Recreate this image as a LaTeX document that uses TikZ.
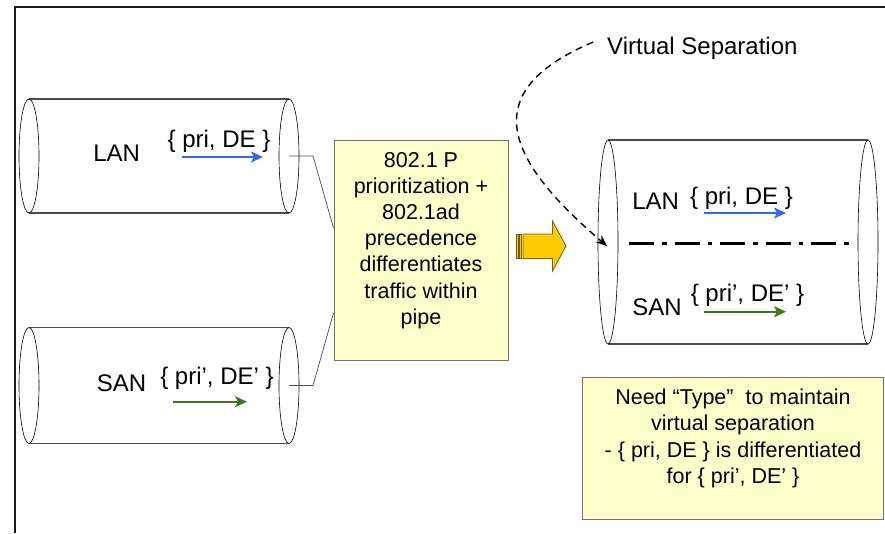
\documentclass[tikz,border=0pt]{standalone}
\usepackage{fontspec}
\setmainfont{Liberation Sans}
\usetikzlibrary{arrows.meta}
\definecolor{notefill}{HTML}{FFFFCC}
\definecolor{gold}{HTML}{FFCC00}
\definecolor{goldedge}{HTML}{7A5C00}
\definecolor{lanblue}{HTML}{3366FF}
\definecolor{sangreen}{HTML}{3A7A1E}

\tikzset{
  pipewall/.style={draw=black!70, line width=1.6pt},
  pipeend/.style={draw=black, line width=0.6pt},
  flow/.style={line width=1.8pt, -{Stealth[length=12pt,width=11pt,inset=3pt]}},
  wire/.style={draw=black!70, line width=0.7pt},
  notebox/.style={draw=black!55, fill=notefill, line width=1pt},
  notetext/.style={font=\fontsize{21.5}{26.2}\selectfont, align=center},
  lbl/.style={font=\fontsize{24}{28}\selectfont, inner sep=0pt},
  goldarrow/.style={fill=gold, draw=goldedge, line width=0.8pt},
  pointer/.style={line width=1.4pt, dash pattern=on 7pt off 5pt, -{Stealth[length=11pt,width=9pt]}},
  sepline/.style={line width=3.5pt, dash pattern=on 25pt off 8pt on 4.5pt off 8pt}
}

% #1 left x, #2 right x, #3 centre y, #4 half height
\newcommand{\drawpipe}[4]{%
  \draw[pipewall] (#1,#3-#4) -- (#2,#3-#4);
  \draw[pipewall] (#1,#3+#4) -- (#2,#3+#4);
  \draw[pipeend] (#1,#3) ellipse [x radius=10, y radius=#4];
  \draw[pipeend] (#2,#3) ellipse [x radius=10, y radius=#4];
}

\begin{document}
\begin{tikzpicture}[x=1pt,y=-1pt]
\useasboundingbox (0,0) rectangle (885,533);
\draw[line width=2pt, black!90] (15,533) -- (15,7) -- (885,7);

% the two separate pipes
\drawpipe{29}{289}{156}{57}
\drawpipe{29}{289}{385.5}{58}
\node[lbl, anchor=base] (lanname) at (116.7,161.7) {LAN};
\node[lbl, anchor=base] (lanpri) at (219,147) {\{ pri, DE \}};
\draw[flow, lanblue] (182,157) -- (263,157);
\node[lbl, anchor=base] (sanname) at (121.5,391.7) {SAN};
\node[lbl, anchor=base] (sanpri) at (217,384) {\{ pri’, DE’ \}};
\draw[flow, sangreen] (173,401.7) -- (247,401.7);
\coordinate (lanout) at (289,156);
\coordinate (sanout) at (289,385.5);

% middle note
\node[notebox, minimum width=174, minimum height=220] (mech) at (421,250) {};
\node[notetext] (mechtext) at (421,240.5) {802.1 P\\prioritization +\\802.1ad\\precedence\\differentiates\\traffic within\\pipe};
\draw[wire] (lanout) -- ++(24,0) -- ([yshift=22pt]mech.west);
\draw[wire] (sanout) -- ++(24,0) -- ([yshift=-63pt]mech.west);

% striped arrow
\draw[goldarrow] (516,234) rectangle (518,258.5);
\draw[goldarrow] (519.5,234) rectangle (521.5,258.5);
\draw[goldarrow] (523,234) -- (552.5,234) -- (552.5,221) -- (566,246)
  -- (552.5,271) -- (552.5,258.5) -- (523,258.5) -- cycle;

% shared pipe
\drawpipe{608}{868}{242}{102}
\draw[sepline] (629,243.3) -- (850,243.3);
\node[lbl, anchor=base] (lanname2) at (655.6,209) {LAN};
\node[lbl, anchor=base] (lanpri2) at (741.5,204) {\{ pri, DE \}};
\draw[flow, lanblue] (704,213) -- (786,213);
\node[lbl, anchor=base] (sanname2) at (657,315.7) {SAN};
\node[lbl, anchor=base] (sanpri2) at (747.5,301) {\{ pri’, DE’ \}};
\draw[flow, sangreen] (704,311.7) -- (786,311.7);

% virtual separation
\node[lbl, anchor=base west] (vsep) at (607,54.3) {Virtual Separation};
\coordinate (sepmark) at (607,246);
\draw[pointer] ([xshift=-14pt,yshift=6pt]vsep.west) .. controls (480,90) and (500,155) .. (sepmark);

% bottom note
\node[notebox, minimum width=301, minimum height=142] (need) at (732.5,448) {};
\node[notetext] (needtext) at (733,438.5) {Need “Type”~ to maintain\\virtual separation\\- \{ pri, DE \} is differentiated\\for \{ pri’, DE’ \}};
\end{tikzpicture}
\end{document}
